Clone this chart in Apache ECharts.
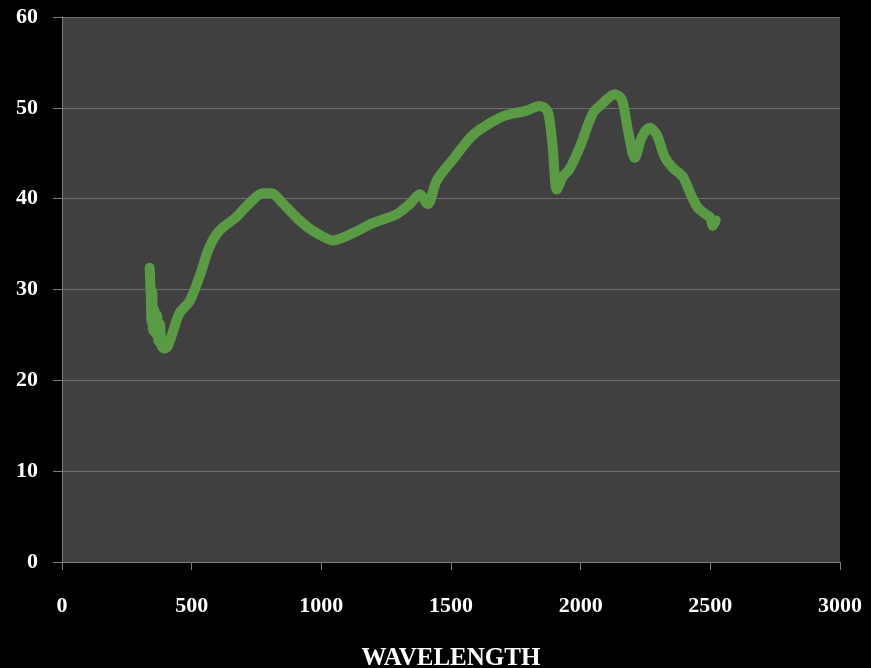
<!DOCTYPE html>
<html>
<head>
<meta charset="utf-8">
<script src="https://cdn.jsdelivr.net/npm/echarts@6/dist/echarts.min.js"></script>
<style>
  html, body { margin: 0; padding: 0; background: #000; }
  #chart { width: 871px; height: 668px; }
</style>
</head>
<body>
<div id="chart"></div>
<script>
  // 波长 (x) 与数值 (y)
  var wavelength = [338, 342, 345, 348, 351, 355, 360, 366, 372, 378, 384, 395, 407, 426, 453, 492, 530, 569, 608, 673, 723, 774, 808, 851, 905, 955, 1021, 1044, 1121, 1198, 1291, 1341, 1379, 1410, 1445, 1507, 1584, 1661, 1715, 1792, 1842, 1873, 1892, 1908, 1931, 1958, 1997, 2047, 2085, 2132, 2159, 2182, 2209, 2236, 2267, 2294, 2324, 2355, 2394, 2429, 2452, 2486, 2500, 2510, 2521];
  var values = [32.4, 29.5, 26.5, 29.8, 25.5, 27.8, 25.2, 27.2, 24.3, 26.2, 23.8, 23.5, 23.7, 25.2, 27.4, 28.7, 31.4, 34.7, 36.5, 38.0, 39.5, 40.6, 40.6, 39.5, 37.9, 36.7, 35.6, 35.4, 36.2, 37.3, 38.3, 39.4, 40.5, 39.4, 42.0, 44.3, 47.0, 48.5, 49.2, 49.7, 50.2, 49.6, 45.7, 41.0, 42.4, 43.3, 45.7, 49.4, 50.5, 51.5, 50.9, 47.6, 44.5, 46.8, 47.8, 47.0, 44.6, 43.4, 42.4, 40.2, 39.0, 38.2, 37.9, 37.0, 37.6];
  var xTicks = [0, 500, 1000, 1500, 2000, 2500, 3000];

  var seriesData = [];
  for (var i = 0; i < wavelength.length; i++) {
    seriesData.push([wavelength[i], values[i]]);
  }

  var chart = echarts.init(document.getElementById('chart'));
  var option = {
    backgroundColor: '#000000',
    animation: false,
    grid: {
      left: 62,
      right: 31,
      top: 17,
      bottom: 106,
      outerBoundsMode: 'none',
      containLabel: false,
      show: true,
      backgroundColor: '#404040',
      borderWidth: 0
    },
    xAxis: {
      type: 'value',
      min: xTicks[0],
      max: xTicks[xTicks.length - 1],
      interval: 500,
      name: 'WAVELENGTH',
      nameLocation: 'middle',
      nameGap: 84,
      nameTextStyle: {
        color: '#ffffff',
        fontFamily: 'Liberation Serif',
        fontWeight: 'bold',
        fontSize: 25
      },
      axisLine: { show: true, lineStyle: { color: '#7f7f7f', width: 1 } },
      axisTick: { show: true, length: 8, lineStyle: { color: '#7f7f7f' } },
      axisLabel: {
        color: '#ffffff',
        fontFamily: 'Liberation Serif',
        fontWeight: 'bold',
        fontSize: 22,
        margin: 33,
        formatter: function (v) { return String(v); }
      },
      splitLine: { show: false }
    },
    yAxis: {
      type: 'value',
      min: 0,
      max: 60,
      interval: 10,
      axisLine: { show: true, lineStyle: { color: '#7f7f7f', width: 1 } },
      axisTick: { show: true, length: 9, lineStyle: { color: '#7f7f7f' } },
      axisLabel: {
        color: '#ffffff',
        fontFamily: 'Liberation Serif',
        fontWeight: 'bold',
        fontSize: 22,
        margin: 24
      },
      splitLine: { show: true, lineStyle: { color: '#6e6e6e', width: 1 } }
    },
    series: [{
      type: 'line',
      data: seriesData,
      smooth: 0.3,
      showSymbol: false,
      lineStyle: { color: '#5a9a44', width: 10, cap: 'round', join: 'round' }
    }]
  };
  chart.setOption(option);
</script>
</body>
</html>
